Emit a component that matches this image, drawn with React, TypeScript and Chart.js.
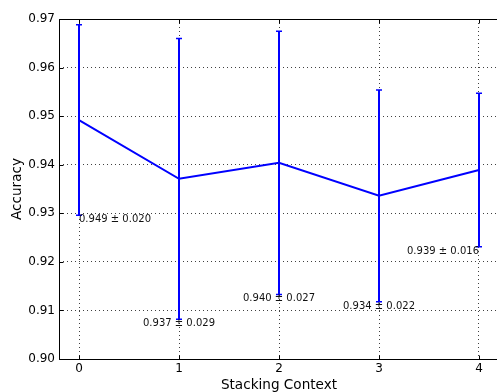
import React, { useEffect, useRef } from "react";
import { Chart, registerables } from "chart.js";

Chart.register(...registerables);

const contexts = [0, 1, 2, 3, 4];
const accuracyMean = [0.9492, 0.9371, 0.9404, 0.9336, 0.9389];
const accuracyStd = [0.0196, 0.0289, 0.0271, 0.0218, 0.0158];
const xTicks = [0, 1, 2, 3, 4];
const yTicks = [0.9, 0.91, 0.92, 0.93, 0.94, 0.95, 0.96, 0.97];
const labelAlign: CanvasTextAlign[] = ["left", "center", "center", "center", "right"];

const FONT = "'DejaVu Sans', sans-serif";
const BLUE = "#0000ff";

const errorBarPlugin = {
  id: "errorBars",
  afterDatasetsDraw(chart: any) {
    const { ctx, scales } = chart;
    const xs = scales.x;
    const ys = scales.y;
    ctx.save();
    ctx.strokeStyle = BLUE;
    contexts.forEach((c, i) => {
      const x = Math.round(xs.getPixelForValue(c));
      const yt = ys.getPixelForValue(accuracyMean[i] + accuracyStd[i]);
      const yb = ys.getPixelForValue(accuracyMean[i] - accuracyStd[i]);
      ctx.lineWidth = 2;
      ctx.beginPath();
      ctx.moveTo(x, yt);
      ctx.lineTo(x, yb);
      ctx.stroke();
      ctx.lineWidth = 1.5;
      ctx.beginPath();
      ctx.moveTo(x - 3, yt);
      ctx.lineTo(x + 3, yt);
      ctx.moveTo(x - 3, yb);
      ctx.lineTo(x + 3, yb);
      ctx.stroke();
    });
    // value labels
    ctx.fillStyle = "#111";
    ctx.font = `10px ${FONT}`;
    ctx.textBaseline = "middle";
    contexts.forEach((c, i) => {
      const x = xs.getPixelForValue(c);
      const yb = ys.getPixelForValue(accuracyMean[i] - accuracyStd[i]);
      ctx.textAlign = labelAlign[i];
      const txt = `${accuracyMean[i].toFixed(3)} \u00b1 ${accuracyStd[i].toFixed(3)}`;
      ctx.fillText(txt, x, yb + 4.5);
    });
    ctx.restore();
  },
};

const framePlugin = {
  id: "frame",
  afterDraw(chart: any) {
    const { ctx, chartArea, scales } = chart;
    const { left, right, top, bottom } = chartArea;
    ctx.save();
    ctx.strokeStyle = "#000";
    ctx.lineWidth = 1;
    const L = Math.round(left) + 0.5;
    const R = Math.round(right) + 0.5;
    const T = Math.round(top) + 0.5;
    const B = Math.round(bottom) + 0.5;
    ctx.beginPath();
    ctx.moveTo(R, T);
    ctx.lineTo(L, T);
    ctx.lineTo(L, B);
    ctx.lineTo(R, B);
    ctx.stroke();
    // inward tick marks
    const tl = 4;
    ctx.beginPath();
    xTicks.forEach((v) => {
      const x = Math.round(scales.x.getPixelForValue(v)) + 0.5;
      ctx.moveTo(x, B);
      ctx.lineTo(x, B - tl);
      ctx.moveTo(x, T);
      ctx.lineTo(x, T + tl);
    });
    yTicks.forEach((v) => {
      const y = Math.round(scales.y.getPixelForValue(v)) + 0.5;
      ctx.moveTo(L, y);
      ctx.lineTo(L + tl, y);
    });
    ctx.stroke();
    ctx.restore();
  },
};

export default function App() {
  const canvasRef = useRef<HTMLCanvasElement | null>(null);

  useEffect(() => {
    if (!canvasRef.current) return;
    Chart.defaults.font.family = FONT;
    const chart = new Chart(canvasRef.current, {
      type: "line",
      data: {
        datasets: [
          {
            data: contexts.map((c, i) => ({ x: c, y: accuracyMean[i] })),
            borderColor: BLUE,
            backgroundColor: BLUE,
            borderWidth: 2,
            pointRadius: 0,
            tension: 0,
            fill: false,
          },
        ],
      },
      options: {
        responsive: false,
        animation: false,
        layout: { padding: { top: 19, right: 1, left: 0, bottom: 0 } },
        plugins: {
          legend: { display: false },
          tooltip: { enabled: false },
        },
        scales: {
          x: {
            type: "linear",
            min: -0.2,
            max: 4.2,
            afterBuildTicks: (s: any) => {
              s.ticks = xTicks.map((v) => ({ value: v }));
            },
            afterFit: (s: any) => {
              s.height = 33;
            },
            ticks: {
              color: "#000",
              font: { size: 12, family: FONT },
              padding: 3,
              callback: (v: any) => String(v),
              maxRotation: 0,
            },
            grid: {
              color: "rgba(0,0,0,0.75)",
              lineWidth: 1,
              drawTicks: false,
            },
            border: { display: false, dash: [1, 3] },
            title: {
              display: true,
              text: "Stacking Context",
              color: "#000",
              font: { size: 13.6, family: FONT, lineHeight: 1 },
              padding: 0,
            },
          },
          y: {
            type: "linear",
            min: 0.9,
            max: 0.97,
            afterBuildTicks: (s: any) => {
              s.ticks = yTicks.map((v) => ({ value: v }));
            },
            afterFit: (s: any) => {
              s.width = 59;
            },
            ticks: {
              color: "#000",
              font: { size: 12, family: FONT },
              padding: 4,
              callback: (v: any) => Number(v).toFixed(2),
            },
            grid: {
              color: "rgba(0,0,0,0.75)",
              lineWidth: 1,
              drawTicks: false,
            },
            border: { display: false, dash: [1, 3] },
            title: {
              display: true,
              text: "Accuracy",
              color: "#000",
              font: { size: 13.6, family: FONT, lineHeight: 1.2 },
              padding: { top: 9, bottom: 0 },
            },
          },
        },
      },
      plugins: [errorBarPlugin, framePlugin],
    } as any);
    return () => chart.destroy();
  }, []);

  return (
    <div
      style={{
        position: "fixed",
        left: 0,
        top: 0,
        width: 497,
        height: 392,
        overflow: "hidden",
        background: "#fff",
      }}
    >
      <canvas ref={canvasRef} width={500} height={392} style={{ display: "block" }} />
    </div>
  );
}
